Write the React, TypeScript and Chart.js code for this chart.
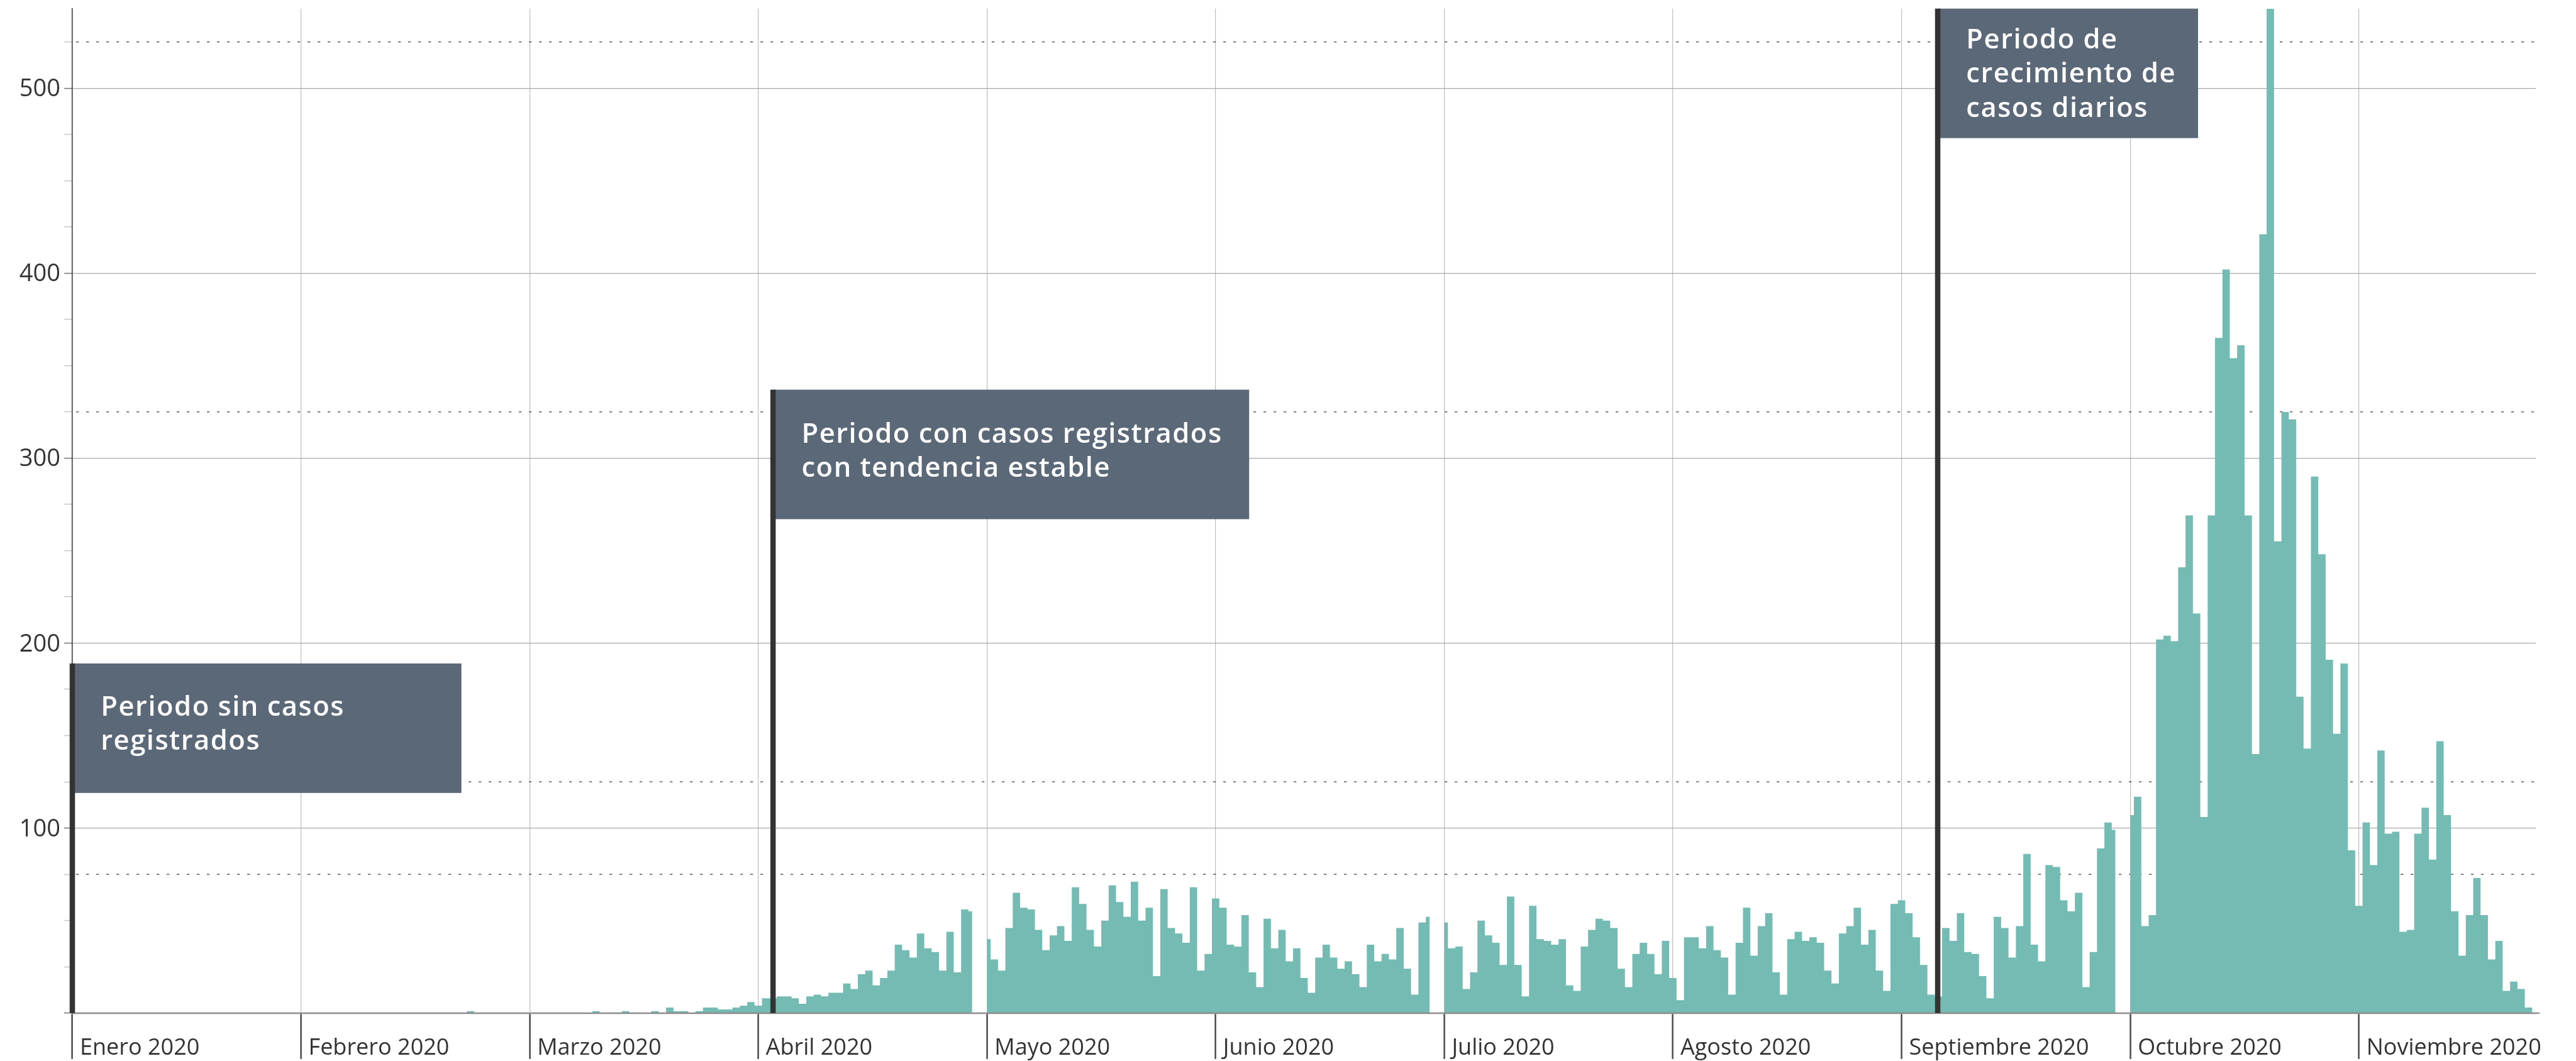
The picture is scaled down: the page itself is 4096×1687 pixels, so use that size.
import React, { useEffect, useRef } from 'react';
import { Chart, registerables } from 'chart.js';

Chart.register(...registerables);

// ---------- data ----------
const meses = [
  'Enero 2020', 'Febrero 2020', 'Marzo 2020', 'Abril 2020', 'Mayo 2020', 'Junio 2020',
  'Julio 2020', 'Agosto 2020', 'Septiembre 2020', 'Octubre 2020', 'Noviembre 2020',
];

const casosEnero = [0, 0, 0, 0, 0, 0, 0, 0, 0, 0, 0, 0, 0, 0, 0, 0, 0, 0, 0, 0, 0, 0, 0, 0, 0, 0, 0, 0, 0, 0, 0];
const casosFebrero = [0, 0, 0, 0, 0, 0, 0, 0, 0, 0, 0, 0, 0, 0, 0, 0, 0, 0, 0, 0, 0, 0, 0, 1, 0, 0, 0, 0, 0];
const casosMarzo = [0, 0, 0, 0, 0, 0, 0, 0, 0, 1, 0, 0, 0, 1, 0, 0, 0, 1, 0, 3, 1, 1, 0, 1, 3, 3, 2, 2, 3, 4, 6];
const casosAbril = [4, 8, 8, 9, 9, 8, 5, 9, 10, 9, 11, 11, 16, 13, 21, 23, 15, 19, 23, 37, 34, 30, 43, 35, 33, 23, 44, 22, 56, 55];
const casosMayo = [40, 29, 23, 46, 65, 57, 56, 45, 34, 42, 47, 39, 68, 59, 45, 36, 50, 69, 60, 52, 71, 50, 57, 20, 67, 46, 43, 38, 68, 23, 32];
const casosJunio = [62, 57, 37, 36, 53, 22, 14, 51, 35, 45, 28, 35, 19, 11, 30, 37, 30, 24, 28, 21, 14, 37, 28, 32, 29, 46, 24, 10, 49, 52];
const casosJulio = [49, 35, 36, 13, 22, 50, 42, 38, 26, 63, 26, 9, 58, 40, 39, 37, 40, 15, 12, 36, 45, 51, 50, 46, 24, 14, 32, 38, 32, 21, 39];
const casosAgosto = [19, 7, 41, 41, 35, 47, 34, 30, 10, 38, 57, 31, 47, 54, 22, 10, 40, 44, 39, 41, 38, 23, 16, 43, 47, 57, 37, 45, 23, 12, 59];
const casosSeptiembre = [61, 54, 41, 26, 10, 9, 46, 39, 54, 33, 32, 20, 8, 52, 46, 30, 47, 86, 37, 28, 80, 79, 61, 55, 65, 14, 33, 89, 103, 99];
const casosOctubre = [107, 117, 47, 53, 202, 204, 201, 241, 269, 216, 106, 269, 365, 402, 354, 361, 269, 140, 421, 543, 255, 325, 321, 171, 143, 290, 248, 191, 151, 189, 88];
const casosNoviembre = [58, 103, 80, 142, 97, 98, 44, 45, 97, 111, 83, 147, 107, 55, 31, 53, 73, 53, 29, 39, 12, 17, 13, 3, 0];

const casosPorMes = [
  casosEnero, casosFebrero, casosMarzo, casosAbril, casosMayo, casosJunio,
  casosJulio, casosAgosto, casosSeptiembre, casosOctubre, casosNoviembre,
];

const yMarcas = [0, 25, 50, 75, 100, 125, 150, 175, 200, 225, 250, 275, 300, 325, 350, 375, 400, 425, 450, 475, 500, 525];
const yEtiquetas = [100, 200, 300, 400, 500];
const lineasDiscontinuas = [75, 125, 325, 525];

const anotaciones = [
  { x: 0, xFin: 52.75, yArriba: 189, yAbajo: 119, primeraLinea: 83, lineas: ['Periodo sin casos', 'registrados'] },
  { x: 95, xFin: 159.55, yArriba: 337, yAbajo: 267, primeraLinea: 84.6, lineas: ['Periodo con casos registrados', 'con tendencia estable'] },
  { x: 252.9, xFin: 288.2, yArriba: 543, yAbajo: 473, primeraLinea: 63.3, lineas: ['Periodo de', 'crecimiento de', 'casos diarios'] },
];

// ---------- layout ----------
const W = 4096;
const H = 1687;
const DIAS = 31;
const X_MAX = 334;
const Y_MAX = 543;
const FONT = '"Open Sans", "Noto Sans", sans-serif';

const puntos: { x: number; y: number | null }[] = [];
casosPorMes.forEach((mes, m) => {
  mes.forEach((v, d) => puntos.push({ x: m * DIAS + d, y: v }));
  if (mes.length < DIAS && m < casosPorMes.length - 1) puntos.push({ x: m * DIAS + mes.length, y: null });
});
const inicioMes = meses.map((_, i) => i * DIAS);

const overlay = {
  id: 'overlay',
  beforeDatasetsDraw(chart: any) {
    const { ctx, chartArea: a, scales } = chart;
    const y = scales.y;
    ctx.save();
    ctx.strokeStyle = '#3a3a3a';
    ctx.lineWidth = 1.3;
    ctx.setLineDash([4.3, 11.7]);
    for (const v of lineasDiscontinuas) {
      const py = y.getPixelForValue(v);
      ctx.beginPath();
      ctx.moveTo(a.left + 6, py);
      ctx.lineTo(a.right, py);
      ctx.stroke();
    }
    ctx.restore();
  },
  afterDatasetsDraw(chart: any) {
    const { ctx, chartArea: a, scales } = chart;
    const x = scales.x;
    const y = scales.y;
    const y0 = y.getPixelForValue(0);
    ctx.save();
    ctx.strokeStyle = '#8c8c8c';
    ctx.lineWidth = 2.2;
    ctx.beginPath();
    ctx.moveTo(a.left, y0);
    ctx.lineTo(a.right + 6, y0);
    ctx.stroke();

    for (const an of anotaciones) {
      const xl = x.getPixelForValue(an.x);
      const xr = x.getPixelForValue(an.xFin);
      const yt = y.getPixelForValue(an.yArriba);
      const yb = y.getPixelForValue(an.yAbajo);
      ctx.fillStyle = '#5a6877';
      ctx.fillRect(xl, yt, xr - xl, yb - yt);
      ctx.fillStyle = '#333333';
      ctx.fillRect(xl - 4.25, yt, 8.5, y0 - yt);
      ctx.fillStyle = '#ffffff';
      ctx.font = `600 43.5px ${FONT}`;
      (ctx as any).letterSpacing = '1.5px';
      ctx.textAlign = 'left';
      ctx.textBaseline = 'alphabetic';
      an.lineas.forEach((t, i) => ctx.fillText(t, xl + 45.3, yt + an.primeraLinea + i * 54.3));
    }
    (ctx as any).letterSpacing = '0px';
    ctx.restore();
  },
  afterDraw(chart: any) {
    const { ctx, chartArea: a, scales } = chart;
    const x = scales.x;
    const y = scales.y;
    ctx.save();
    ctx.fillStyle = '#333333';
    ctx.textBaseline = 'alphabetic';
    ctx.font = `500 36px ${FONT}`;
    ctx.textAlign = 'left';
    meses.forEach((m, i) => {
      ctx.fillText(m, x.getPixelForValue(inicioMes[i]) + 12, 1677);
    });
    ctx.font = `500 38px ${FONT}`;
    ctx.textAlign = 'right';
    for (const v of yEtiquetas) {
      ctx.fillText(String(v), a.left - 19, y.getPixelForValue(v) + 13);
    }
    ctx.restore();
  },
};

export default function App() {
  const ref = useRef<HTMLCanvasElement>(null);
  useEffect(() => {
    document.body.style.margin = '0';
    const canvas = ref.current;
    if (!canvas) return;
    Chart.defaults.font.family = FONT;
    const chart = new Chart(canvas, {
      type: 'line',
      data: {
        datasets: [
          {
            data: puntos as any,
            stepped: 'middle',
            fill: 'origin',
            backgroundColor: '#74bbb4',
            borderWidth: 0,
            pointRadius: 0,
            spanGaps: false,
          },
        ],
      },
      options: {
        animation: false,
        responsive: false,
        devicePixelRatio: 1,
        layout: { padding: { top: 13.7, right: 63.8, left: 0, bottom: 0 } },
        plugins: { legend: { display: false }, tooltip: { enabled: false } },
        scales: {
          x: {
            type: 'linear',
            min: 0,
            max: X_MAX,
            afterBuildTicks: (s: any) => {
              s.ticks = inicioMes.map((v) => ({ value: v }));
            },
            afterFit: (s: any) => {
              s.height = 76.2;
            },
            ticks: { display: false },
            grid: {
              color: '#bdbdbd',
              lineWidth: 1.2,
              drawTicks: true,
              tickLength: 73,
              tickColor: '#4a4a4a',
              tickWidth: 2.5,
            },
            border: { display: true, color: '#8c8c8c', width: 2.2 },
          },
          y: {
            type: 'linear',
            min: 0,
            max: Y_MAX,
            afterBuildTicks: (s: any) => {
              s.ticks = yMarcas.map((v) => ({ value: v }));
            },
            afterFit: (s: any) => {
              s.width = 115;
            },
            ticks: { display: false },
            grid: {
              color: (c: any) => (c.tick && c.tick.value > 0 && c.tick.value % 100 === 0 ? '#a8a8a8' : 'rgba(0,0,0,0)'),
              lineWidth: 1.2,
              drawTicks: true,
              tickLength: 13,
              tickColor: (c: any) => (c.tick && c.tick.value % 100 === 0 ? '#7a7a7a' : '#c8c8c8'),
              tickWidth: 1.6,
            },
            border: { display: true, color: '#333333', width: 1.5 },
          },
        },
      },
      plugins: [overlay],
    } as any);
    return () => chart.destroy();
  }, []);
  return (
    <div style={{ position: 'absolute', left: 0, top: 0, width: W, height: H, overflow: 'hidden', background: '#ffffff' }}>
      <canvas ref={ref} width={W} height={H} style={{ width: W, height: H, display: 'block' }} />
    </div>
  );
}
